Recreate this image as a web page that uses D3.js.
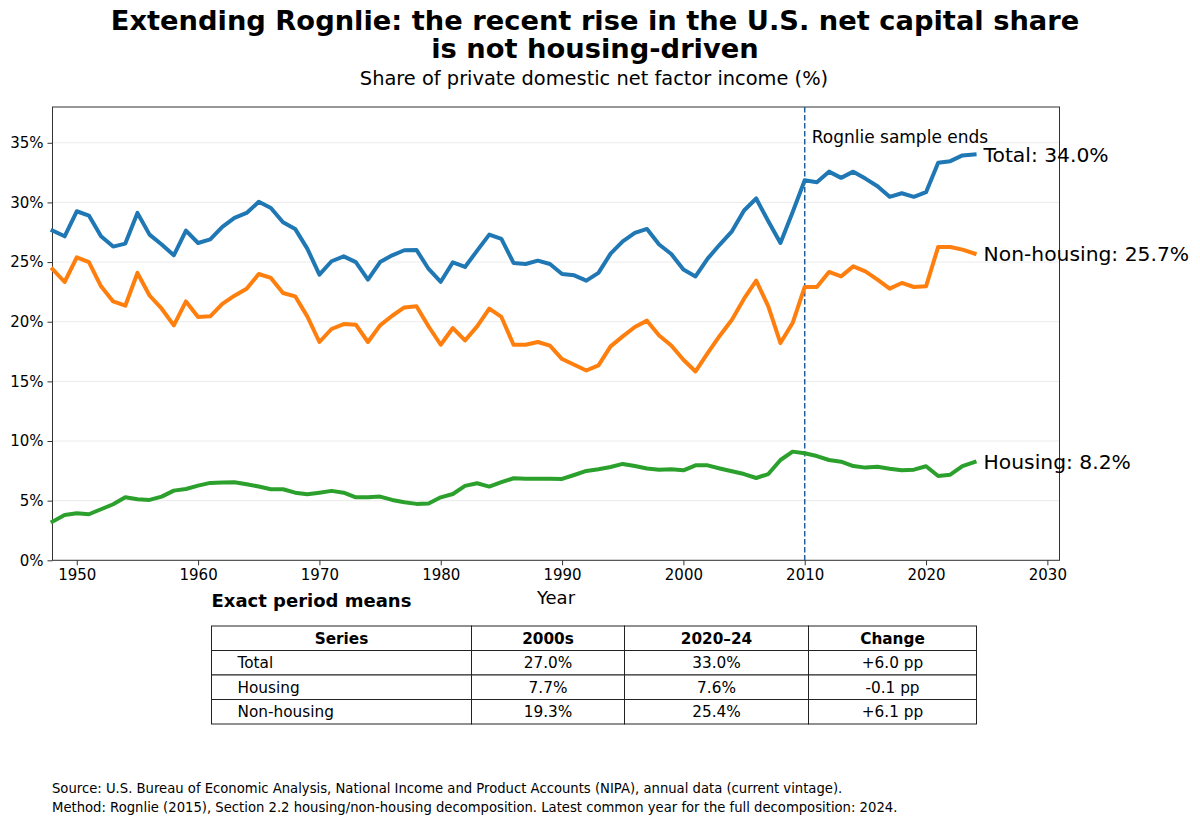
<!DOCTYPE html>
<html>
<head>
<meta charset="utf-8">
<script src="https://cdn.jsdelivr.net/npm/d3@7"></script>
<style>
  html, body { margin: 0; padding: 0; background: #fff; }
  svg { display: block; font-family: "DejaVu Sans", sans-serif; }
</style>
</head>
<body>
<svg id="chart" width="1200" height="823"></svg>
<script>
// Rognlie decomposition, share of private domestic net factor income (%)
const years = d3.range(1948, 2025);

const total = [
  27.64, 27.16, 29.26, 28.9, 27.16, 26.3, 26.55, 29.12, 27.3, 26.47,
  25.57, 27.64, 26.6, 26.9, 27.95, 28.7, 29.12, 30.05, 29.54, 28.34,
  27.78, 26.13, 23.95, 25.07, 25.48, 25.0, 23.53, 25.0, 25.57, 25.99,
  26.02, 24.42, 23.35, 24.98, 24.59, 25.96, 27.3, 26.94, 24.93, 24.84,
  25.12, 24.84, 24.0, 23.89, 23.44, 24.09, 25.71, 26.74, 27.44, 27.78,
  26.47, 25.68, 24.37, 23.8, 25.29, 26.47, 27.58, 29.32, 30.33, 28.42,
  26.6, 29.18, 31.86, 31.7, 32.58, 32.06, 32.58, 32.0, 31.36, 30.47,
  30.77, 30.47, 30.86, 33.32, 33.46, 33.94, 34.02
];

const nonHousing = [
  24.42, 23.33, 25.4, 25.0, 22.97, 21.7, 21.34, 24.09, 22.2, 21.09,
  19.69, 21.7, 20.4, 20.45, 21.49, 22.18, 22.77, 24.0, 23.67, 22.41,
  22.13, 20.45, 18.3, 19.39, 19.8, 19.75, 18.3, 19.69, 20.5, 21.2,
  21.29, 19.6, 18.07, 19.47, 18.43, 19.61, 21.09, 20.4, 18.07, 18.07,
  18.3, 17.99, 16.87, 16.39, 15.91, 16.34, 17.93, 18.77, 19.56, 20.09,
  18.85, 18.01, 16.81, 15.83, 17.37, 18.83, 20.17, 21.93, 23.44, 21.29,
  18.21, 19.89, 22.91, 22.91, 24.17, 23.8, 24.64, 24.22, 23.53, 22.77,
  23.25, 22.91, 22.97, 26.27, 26.27, 26.04, 25.71
];

const housing = [
  3.24, 3.8, 3.94, 3.86, 4.28, 4.7, 5.28, 5.12, 5.06, 5.34,
  5.84, 5.98, 6.26, 6.49, 6.52, 6.55, 6.38, 6.18, 5.96, 5.96,
  5.67, 5.54, 5.67, 5.82, 5.67, 5.28, 5.28, 5.34, 5.06, 4.87,
  4.73, 4.76, 5.28, 5.56, 6.24, 6.46, 6.18, 6.55, 6.88, 6.83,
  6.83, 6.83, 6.82, 7.15, 7.49, 7.63, 7.82, 8.08, 7.9, 7.7,
  7.6, 7.63, 7.54, 7.96, 7.96, 7.7, 7.46, 7.23, 6.9, 7.23,
  8.41, 9.11, 8.97, 8.74, 8.41, 8.27, 7.9, 7.77, 7.85, 7.68,
  7.54, 7.6, 7.88, 7.07, 7.18, 7.9, 8.24
];

const seriesNames = ["Total", "Non-housing", "Housing"];
const seriesColors = ["#1f77b4", "#ff7f0e", "#2ca02c"];
const seriesValues = [total, nonHousing, housing];

const xTicks = d3.range(1950, 2031, 10);
const yTicks = d3.range(0, 36, 5);
const sampleEnd = 2010;

const tableHeader = ["Series", "2000s", "2020\u201324", "Change"];
const tableRows = [
  ["Total", "27.0%", "33.0%", "+6.0 pp"],
  ["Housing", "7.7%", "7.6%", "-0.1 pp"],
  ["Non-housing", "19.3%", "25.4%", "+6.1 pp"]
];

const notes = [
  "Source: U.S. Bureau of Economic Analysis, National Income and Product Accounts (NIPA), annual data (current vintage).",
  "Method: Rognlie (2015), Section 2.2 housing/non-housing decomposition. Latest common year for the full decomposition: 2024."
];

const svg = d3.select("#chart");

const plot = { left: 52.5, right: 1059.5, top: 107, bottom: 560.3 };

const x = d3.scaleLinear().domain([1948, 2031]).range([plot.left, plot.right]);
const y = d3.scaleLinear().domain([0, 38]).range([plot.bottom, plot.top]);

// titles
svg.append("text")
  .attr("x", 595).attr("y", 29.5)
  .attr("text-anchor", "middle")
  .style("font-size", "27.3px").style("font-weight", "bold")
  .text("Extending Rognlie: the recent rise in the U.S. net capital share");
svg.append("text")
  .attr("x", 595).attr("y", 58)
  .attr("text-anchor", "middle")
  .style("font-size", "27.3px").style("font-weight", "bold")
  .text("is not housing-driven");
svg.append("text")
  .attr("x", 594).attr("y", 85)
  .attr("text-anchor", "middle")
  .style("font-size", "19.4px")
  .text("Share of private domestic net factor income (%)");

// gridlines
svg.append("g")
  .selectAll("line")
  .data(yTicks)
  .join("line")
  .attr("x1", plot.left).attr("x2", plot.right)
  .attr("y1", d => y(d)).attr("y2", d => y(d))
  .attr("stroke", "#ebebeb").attr("stroke-width", 1);

// axes
const xAxis = svg.append("g")
  .attr("transform", `translate(0,${plot.bottom})`)
  .call(d3.axisBottom(x).tickValues(xTicks).tickFormat(d3.format("d")).tickSizeOuter(0).tickSize(5).tickPadding(4));
const yAxis = svg.append("g")
  .attr("transform", `translate(${plot.left},0)`)
  .call(d3.axisLeft(y).tickValues(yTicks).tickFormat(d => d + "%").tickSizeOuter(0).tickSize(5).tickPadding(4));

[xAxis, yAxis].forEach(a => {
  a.select(".domain").remove();
  a.selectAll("text").style("font-size", "15px").style("font-family", "DejaVu Sans").attr("fill", "#000");
  a.selectAll("line").attr("stroke", "#333");
});

// frame
svg.append("rect")
  .attr("x", plot.left).attr("y", plot.top)
  .attr("width", plot.right - plot.left).attr("height", plot.bottom - plot.top)
  .attr("fill", "none").attr("stroke", "#333").attr("stroke-width", 1);

svg.append("text")
  .attr("x", (plot.left + plot.right) / 2).attr("y", 604)
  .attr("text-anchor", "middle")
  .style("font-size", "18px")
  .text("Year");

// sample-end marker
svg.append("line")
  .attr("x1", x(sampleEnd)).attr("x2", x(sampleEnd))
  .attr("y1", plot.top).attr("y2", plot.bottom)
  .attr("stroke", "#1f5f9a").attr("stroke-width", 1.5)
  .attr("stroke-dasharray", "5.5,2.5");
svg.append("text")
  .attr("x", x(sampleEnd) + 7).attr("y", 143)
  .style("font-size", "17px")
  .text("Rognlie sample ends");

// lines
const line = d3.line()
  .x((d, i) => x(years[i]))
  .y(d => y(d));

seriesValues.forEach((vals, k) => {
  svg.append("path")
    .datum(vals)
    .attr("d", line)
    .attr("fill", "none")
    .attr("stroke", seriesColors[k])
    .attr("stroke-width", 4)
    .attr("stroke-linejoin", "round")
    .attr("stroke-linecap", "square");

  const last = vals[vals.length - 1];
  svg.append("text")
    .attr("x", x(years[years.length - 1]) + 9)
    .attr("y", y(last))
    .attr("dy", "0.36em")
    .style("font-size", "20.3px")
    .text(`${seriesNames[k]}: ${last.toFixed(1)}%`);
});

// period means table
svg.append("text")
  .attr("x", 211.5).attr("y", 607)
  .style("font-size", "18px").style("font-weight", "bold")
  .text("Exact period means");

const colEdges = [211.5, 471.5, 624.5, 808.5, 976.5];
const rowTop = 626, rowH = 24.5;
const allRows = [tableHeader, ...tableRows];

const tbl = svg.append("g");
allRows.forEach((row, r) => {
  row.forEach((cell, c) => {
    const x0 = colEdges[c], x1 = colEdges[c + 1];
    const y0 = rowTop + r * rowH;
    tbl.append("rect")
      .attr("x", x0).attr("y", y0)
      .attr("width", x1 - x0).attr("height", rowH)
      .attr("fill", "#fff").attr("stroke", "#222").attr("stroke-width", 1);
    const leftCell = (c === 0 && r > 0);
    tbl.append("text")
      .attr("x", leftCell ? x0 + 26 : (x0 + x1) / 2)
      .attr("y", y0 + rowH / 2)
      .attr("dy", "0.36em")
      .attr("text-anchor", leftCell ? "start" : "middle")
      .style("font-size", "15.3px")
      .style("font-weight", r === 0 ? "bold" : "normal")
      .text(cell);
  });
});

// notes
svg.append("g")
  .selectAll("text")
  .data(notes)
  .join("text")
  .attr("x", 52).attr("y", (d, i) => 793 + i * 18.5)
  .style("font-size", "13.2px")
  .text(d => d);
</script>
</body>
</html>
